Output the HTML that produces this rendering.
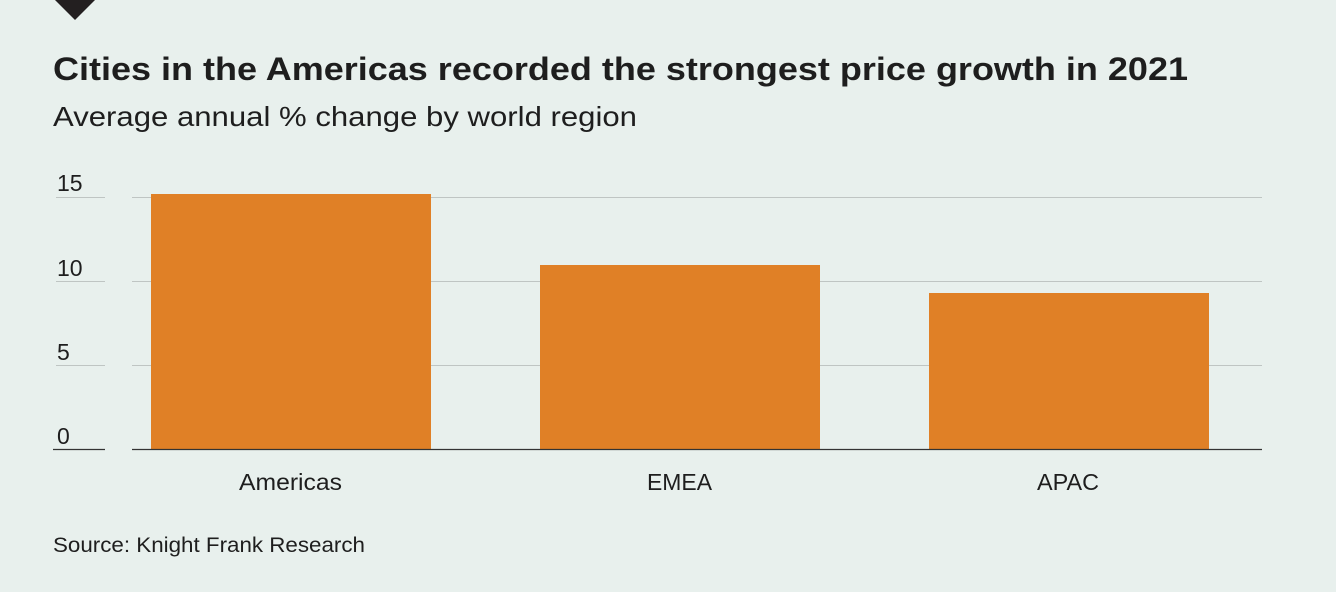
<!DOCTYPE html>
<html><head><style>
body{margin:0;width:1336px;height:592px;background:#e8f0ed;position:relative;overflow:hidden;font-family:"Liberation Sans",sans-serif;color:#1e1e1e}
.a{position:absolute}
</style></head><body>
<svg class="a" style="left:0;top:0" width="1336" height="592">
<polygon points="55,0 95,0 75,20" fill="#231f20"/>
<g stroke="#bfc5c3" stroke-width="1">
<line x1="56" y1="197.5" x2="105" y2="197.5"/><line x1="132" y1="197.5" x2="1262" y2="197.5"/>
<line x1="56" y1="281.5" x2="105" y2="281.5"/><line x1="132" y1="281.5" x2="1262" y2="281.5"/>
<line x1="56" y1="365.5" x2="105" y2="365.5"/><line x1="132" y1="365.5" x2="1262" y2="365.5"/>
</g>
<rect x="151" y="194" width="280" height="255" fill="#e08026"/>
<rect x="540" y="265" width="280" height="184" fill="#e08026"/>
<rect x="929" y="293" width="280" height="156" fill="#e08026"/>
<g stroke="#333" stroke-width="1.2">
<line x1="53" y1="449.5" x2="105" y2="449.5"/><line x1="132" y1="449.5" x2="1262" y2="449.5"/>
</g>
<g font-family="Liberation Sans, sans-serif" font-size="23" fill="#1e1e1e">
<text x="57" y="191">15</text><text x="57" y="276">10</text><text x="57" y="360">5</text><text x="57" y="444">0</text>
<text x="239" y="490" textLength="103" lengthAdjust="spacingAndGlyphs">Americas</text>
<text x="647" y="490" textLength="65" lengthAdjust="spacingAndGlyphs">EMEA</text>
<text x="1037" y="490" textLength="62" lengthAdjust="spacingAndGlyphs">APAC</text>
<text x="53" y="552" font-size="21" textLength="312" lengthAdjust="spacingAndGlyphs">Source: Knight Frank Research</text>
</g>
<text x="53" y="80" font-family="Liberation Sans, sans-serif" font-weight="bold" font-size="32" fill="#1e1e1e" textLength="1135" lengthAdjust="spacingAndGlyphs">Cities in the Americas recorded the strongest price growth in 2021</text>
<text x="53" y="126" font-family="Liberation Sans, sans-serif" font-size="28" fill="#1e1e1e" textLength="584" lengthAdjust="spacingAndGlyphs">Average annual % change by world region</text>
</svg>
</body></html>
